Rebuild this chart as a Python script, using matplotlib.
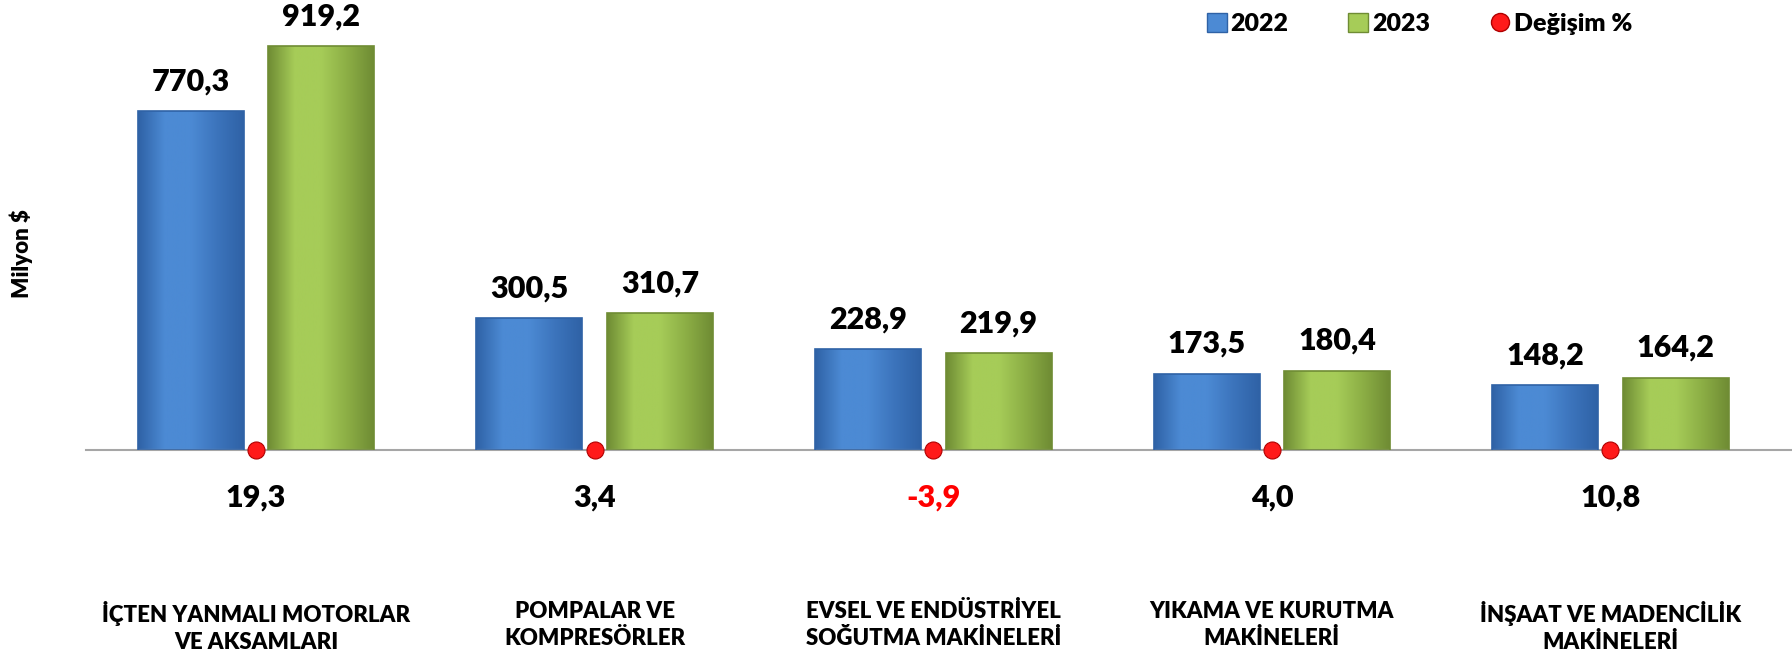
import numpy as np
import matplotlib.pyplot as plt
from matplotlib.colors import LinearSegmentedColormap
from matplotlib.lines import Line2D
from matplotlib.patches import Patch

plt.rcParams['font.family'] = ['Lato', 'DejaVu Sans']
plt.rcParams['font.weight'] = 'heavy'

kategoriler = ["İÇTEN YANMALI MOTORLAR\nVE AKSAMLARI", "POMPALAR VE\nKOMPRESÖRLER",
               "EVSEL VE ENDÜSTRİYEL\nSOĞUTMA MAKİNELERİ", "YIKAMA VE KURUTMA\nMAKİNELERİ",
               "İNŞAAT VE MADENCİLİK\nMAKİNELERİ"]
deger_2022 = [770.3, 300.5, 228.9, 173.5, 148.2]
deger_2023 = [919.2, 310.7, 219.9, 180.4, 164.2]
degisim = [19.3, 3.4, -3.9, 4.0, 10.8]
yillar = ["2022", "2023"]

W, H = 1792, 661
fig = plt.figure(figsize=(W / 100, H / 100), dpi=100)
ax = fig.add_axes([86 / W, 1 - 450 / H, (W - 86) / W, (450 - 10.5) / H])

x = np.arange(len(kategoriler))
w = 0.313
off = 0.193

mavi = ("#2F62A6", "#4C8AD4", "#3C74BC")
yesil = ("#6F8C34", "#A6CC58", "#8CAE45")


def gradyan(bars, renk):
    cmap = LinearSegmentedColormap.from_list("g", [renk[0], renk[1], renk[1], renk[2], renk[0]])
    for b in bars:
        x0, y0 = b.get_x(), b.get_y()
        im = ax.imshow(np.linspace(0, 1, 200).reshape(1, -1), cmap=cmap, aspect="auto",
                       extent=(x0, x0 + b.get_width(), y0, y0 + b.get_height()), zorder=2.5)
        im.set_clip_path(b)


b1 = ax.bar(x - off, deger_2022, w, facecolor="none", edgecolor=mavi[0], linewidth=1.2, zorder=3)
b2 = ax.bar(x + off, deger_2023, w, facecolor="none", edgecolor=yesil[0], linewidth=1.2, zorder=3)
gradyan(b1, mavi)
gradyan(b2, yesil)

for bars in (b1, b2):
    for b in bars:
        v = b.get_height()
        ax.annotate(f"{v:.1f}".replace(".", ","), (b.get_x() + b.get_width() / 2, v),
                    xytext=(0, 15), textcoords="offset points", ha="center", va="baseline",
                    fontsize=22)

ax.set_xlim(-0.502, 4.536)
ax.set_ylim(0, 1000)
ax.set_xticks(x)
ax.set_xticklabels(kategoriler, fontsize=16, linespacing=1.35)
ax.tick_params(axis="x", length=0, pad=109)
ax.set_yticks([])
for s in ("top", "left", "right"):
    ax.spines[s].set_visible(False)
ax.spines["bottom"].set_color("#A6A6A6")
ax.spines["bottom"].set_linewidth(1.5)
ax.patch.set_visible(False)

# değişim yüzdesi: ikincil eksen, geniş ölçek
ax2 = ax.twinx()
ax2.set_ylim(0, 20000)
ax2.axis("off")
ax2.scatter(x, degisim, s=150, color="#FF1A1A", edgecolors="#B00000", linewidths=0.8,
            zorder=5, clip_on=False)
for i, d in enumerate(degisim):
    ax2.annotate(f"{d:.1f}".replace(".", ","), (x[i], 0), xytext=(0, -34),
                 textcoords="offset points", ha="center", va="center", fontsize=22,
                 color="#FF0000" if d < 0 else "black")

fig.text(21 / W, 1 - 254 / H, "Milyon $", rotation=90, fontsize=16,
         ha="center", va="center")

handles = [Patch(facecolor=mavi[1], edgecolor=mavi[0]),
           Patch(facecolor=yesil[1], edgecolor=yesil[0]),
           Line2D([], [], marker="o", linestyle="none", markerfacecolor="#FF1A1A",
                  markeredgecolor="#B00000", markersize=13)]
fig.legend(handles, yillar + ["Değişim %"], loc="upper left", bbox_to_anchor=(1194 / W, 1.0),
           ncol=3, frameon=False, handlelength=0.8, handleheight=0.8,
           handletextpad=0.15, columnspacing=2.4, borderaxespad=0.1,
           prop={"weight": "heavy", "size": 18})

fig.savefig("out.png", dpi=100)
